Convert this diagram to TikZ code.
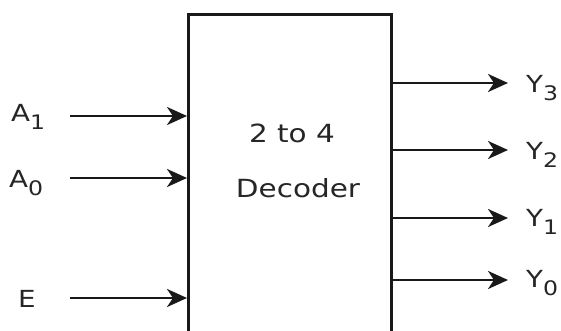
\documentclass[tikz,border=0pt]{standalone}
\usepackage{fontspec}
\setmainfont{DejaVu Sans}
\usetikzlibrary{arrows.meta}
\newcommand{\hs}[1]{\scalebox{1.18}[1]{#1}}
\newcommand{\sbs}[1]{\raisebox{-0.3em}{\fontsize{20}{20}\selectfont #1}}
\begin{document}
\begin{tikzpicture}[x=1pt,y=1pt,
  lbl/.style={font=\fontsize{23.5}{25}\selectfont, text=black!85, inner sep=0pt},
  mid/.style={font=\fontsize{25}{27}\selectfont, text=black!85, inner sep=0pt, anchor=base},
  wire/.style={line width=2.7pt, draw=black!90, -{Stealth[length=20pt,width=18pt,inset=6pt]}}]
\useasboundingbox (0,0) rectangle (561,331);
\fill[white] (0,0) rectangle (561,331);
% decoder box
\node[draw=black!90, line width=2.7pt, minimum width=203pt, minimum height=340pt, inner sep=0pt, anchor=north west] (dec) at (187,318) {};
\node[mid] (t1) at (292,188) {\hs{2 to 4}};
\node[mid] (t2) at (298,133) {\hs{Decoder}};
% input endpoints
\coordinate (a1s) at (70,215);
\coordinate (a0s) at (70,153);
\coordinate (es) at (70,33);
\coordinate (a1e) at (187,215);
\coordinate (a0e) at (187,153);
\coordinate (ee) at (187,33);
\node[lbl, anchor=base west] (la1) at (11,209) {\hs{A\sbs{1}}};
\node[lbl, anchor=base west] (la0) at (9,143) {\hs{A\sbs{0}}};
\node[lbl, anchor=base west] (le) at (18,23) {\hs{E}};
\draw[wire] (a1s) -- (a1e);
\draw[wire] (a0s) -- (a0e);
\draw[wire] (es) -- (ee);
% outputs
\coordinate (y3s) at (390,248);
\coordinate (y2s) at (390,181);
\coordinate (y1s) at (390,113);
\coordinate (y0s) at (390,51);
\coordinate (y3e) at (508,248);
\coordinate (y2e) at (508,181);
\coordinate (y1e) at (508,113);
\coordinate (y0e) at (508,51);
\draw[wire] (y3s) -- (y3e);
\draw[wire] (y2s) -- (y2e);
\draw[wire] (y1s) -- (y1e);
\draw[wire] (y0s) -- (y0e);
\node[lbl, anchor=base west] (ly3) at (526,238) {\hs{Y\sbs{3}}};
\node[lbl, anchor=base west] (ly2) at (526,171) {\hs{Y\sbs{2}}};
\node[lbl, anchor=base west] (ly1) at (526,104) {\hs{Y\sbs{1}}};
\node[lbl, anchor=base west] (ly0) at (526,43) {\hs{Y\sbs{0}}};
\end{tikzpicture}
\end{document}
